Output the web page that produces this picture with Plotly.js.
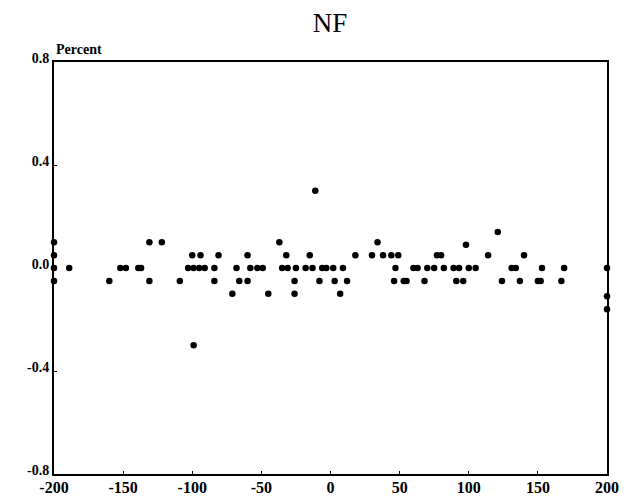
<!DOCTYPE html>
<html>
<head>
<meta charset="utf-8">
<script src="https://cdn.plot.ly/plotly-3.0.1.min.js"></script>
<style>html,body{margin:0;padding:0;background:#fff;}#chart{width:632px;height:497px;}</style>
</head>
<body>
<div id="chart"></div>
<script>
// Data (x: position, y: percent)
const xVals = [
  -200, -200, -200, -200,
  -131, -122, -37, 34, 98,
  121, -11, -99,
  -100, -94, -81, -60, -32, -15, 18, 30, 38, 44, 49, 77, 80, 114, 140,
  -189, -152, -148, -139, -137, -103, -99, -95, -91, -84, -68, -58, -53, -49,
  -35, -31, -25, -18, -13, -6, -3, 2, 9, 47, 60, 63, 70, 75, 82, 89, 93, 100, 105, 131, 134, 153, 169,
  -160, -131, -109, -84, -66, -60, -26, -8, 3, 12, 46, 53, 55, 68, 91, 96, 124, 137, 150, 152, 167,
  -71, -45, -26, 7,
  200, 200, 200
];
const yVals = [
  0.1, 0.05, 0.0, -0.05,
  0.1, 0.1, 0.1, 0.1, 0.09,
  0.14, 0.3, -0.3,
  0.05, 0.05, 0.05, 0.05, 0.05, 0.05, 0.05, 0.05, 0.05, 0.05, 0.05, 0.05, 0.05, 0.05, 0.05,
  0, 0, 0, 0, 0, 0, 0, 0, 0, 0, 0, 0, 0, 0,
  0, 0, 0, 0, 0, 0, 0, 0, 0, 0, 0, 0, 0, 0, 0, 0, 0, 0, 0, 0, 0, 0, 0,
  -0.05, -0.05, -0.05, -0.05, -0.05, -0.05, -0.05, -0.05, -0.05, -0.05, -0.05, -0.05, -0.05, -0.05, -0.05, -0.05, -0.05, -0.05, -0.05, -0.05, -0.05,
  -0.1, -0.1, -0.1, -0.1,
  0, -0.11, -0.16
];
const xTicks = [-200, -150, -100, -50, 0, 50, 100, 150, 200];
const yTicks = [-0.8, -0.4, 0.0, 0.4, 0.8];
const chartTitle = "NF";
const yUnit = "Percent";

const serif = "Liberation Serif, Times New Roman, serif";

const trace = {
  x: xVals, y: yVals,
  type: "scatter", mode: "markers",
  marker: {color: "#000", size: 6.5},
  cliponaxis: false,
  hoverinfo: "skip"
};

const layout = {
  width: 632, height: 497,
  margin: {l: 54, r: 25, t: 62, b: 23, pad: 0},
  paper_bgcolor: "#fff", plot_bgcolor: "#fff",
  showlegend: false,
  title: {text: chartTitle, font: {family: serif, size: 27, color: "#000"},
          x: 0.522, xanchor: "center", y: 0.955, yanchor: "middle", yref: "container"},
  xaxis: {
    range: [-200, 200], tickvals: xTicks, ticktext: xTicks.map(String),
    showgrid: false, zeroline: false,
    showline: true, linecolor: "#000", linewidth: 2, mirror: true,
    ticks: "inside", ticklen: 3, tickcolor: "#000", tickwidth: 1,
    tickfont: {family: serif, size: 16, color: "#000", weight: "bold"},
    ticklabelstandoff: -2
  },
  yaxis: {
    range: [-0.8, 0.8], tickvals: yTicks, ticktext: yTicks.map(v => v.toFixed(1)),
    showgrid: false, zeroline: false,
    showline: true, linecolor: "#000", linewidth: 2, mirror: true,
    ticks: "inside", ticklen: 3, tickcolor: "#000", tickwidth: 1,
    tickfont: {family: serif, size: 14, color: "#000", weight: "bold"},
    ticklabelshift: -4
  },
  annotations: [{
    text: yUnit, xref: "paper", yref: "paper", x: 0.0, y: 1.0,
    xanchor: "left", yanchor: "bottom", yshift: 3, showarrow: false,
    font: {family: serif, size: 14, color: "#000", weight: "bold"}
  }]
};

Plotly.newPlot("chart", [trace], layout, {displayModeBar: false, staticPlot: true});
</script>
</body>
</html>
